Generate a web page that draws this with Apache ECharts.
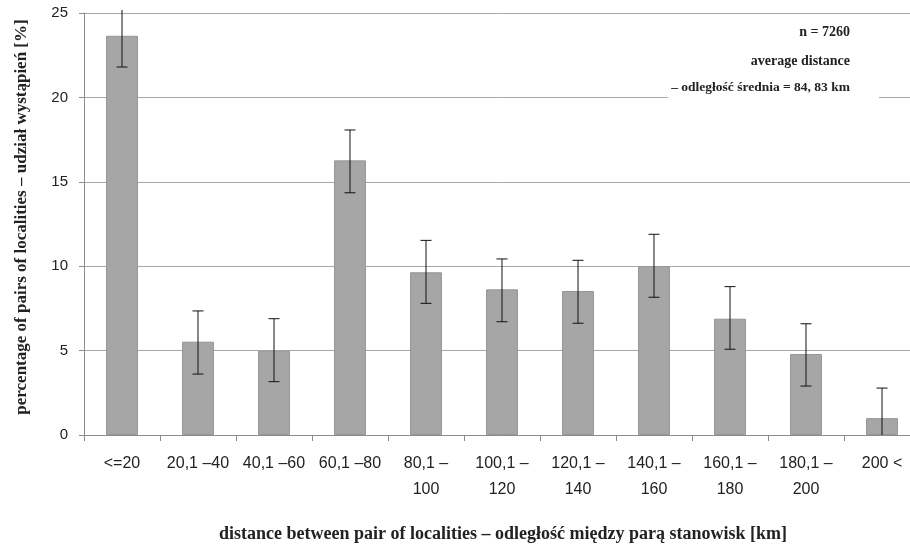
<!DOCTYPE html>
<html>
<head>
<meta charset="utf-8">
<script src="https://cdn.jsdelivr.net/npm/echarts@6/dist/echarts.min.js"></script>
<style>html,body{margin:0;padding:0;background:#fff;}#c{width:910px;height:544px;}</style>
</head>
<body>
<div id="c"></div>
<script>
const categories = ['<=20', '20,1 –40', '40,1 –60', '60,1 –80', '80,1 –\n100', '100,1 –\n120', '120,1 –\n140', '140,1 –\n160', '160,1 –\n180', '180,1 –\n200', '200 <'];
const percentages = [23.65, 5.53, 4.99, 16.27, 9.64, 8.63, 8.53, 10.01, 6.89, 4.80, 1.0];
const errLower = [21.8, 3.61, 3.16, 14.35, 7.80, 6.71, 6.62, 8.16, 5.08, 2.90, -0.8];
const errUpper = [25.5, 7.35, 6.89, 18.07, 11.53, 10.43, 10.35, 11.89, 8.79, 6.59, 2.78];
const yTicks = [0, 5, 10, 15, 20, 25];

const chart = echarts.init(document.getElementById('c'));
const serif = '"Liberation Serif", "Times New Roman", serif';
const sans = '"Liberation Sans", Arial, sans-serif';

chart.setOption({
  animation: false,
  backgroundColor: '#ffffff',
  grid: { left: 84, top: 13, width: 836, height: 422, outerBoundsMode: 'none', containLabel: false },
  xAxis: {
    type: 'category',
    data: categories,
    axisLine: { lineStyle: { color: '#8c8c8c', width: 1 } },
    axisTick: { show: true, alignWithLabel: false, length: 6, lineStyle: { color: '#8c8c8c' } },
    axisLabel: { interval: 0, fontFamily: sans, fontSize: 16, color: '#222', margin: 16, lineHeight: 26, hideOverlap: false }
  },
  yAxis: {
    type: 'value',
    min: yTicks[0], max: yTicks[yTicks.length - 1], interval: 5,
    axisLine: { show: true, lineStyle: { color: '#8c8c8c' } },
    axisTick: { show: true, length: 5, lineStyle: { color: '#8c8c8c' } },
    axisLabel: { fontFamily: sans, fontSize: 15, color: '#222', margin: 16 },
    splitLine: { lineStyle: { color: '#a8a8a8', width: 1 } }
  },
  graphic: [
    { type: 'rect', shape: { x: 668, y: 20, width: 211, height: 84 }, style: { fill: '#ffffff' }, z: 50 },
    { type: 'text', x: 850, y: 32, z: 51, style: { text: 'n = 7260', fontFamily: serif, fontWeight: 'bold', fontSize: 14, fill: '#222', textAlign: 'right', textVerticalAlign: 'middle' } },
    { type: 'text', x: 850, y: 61, z: 51, style: { text: 'average distance', fontFamily: serif, fontWeight: 'bold', fontSize: 14, fill: '#222', textAlign: 'right', textVerticalAlign: 'middle' } },
    { type: 'text', x: 850, y: 88, z: 51, style: { text: '– odległość średnia = 84, 83 km', fontFamily: serif, fontWeight: 'bold', fontSize: 13.5, fill: '#222', textAlign: 'right', textVerticalAlign: 'middle' } },
    { type: 'text', x: 503, y: 534, z: 51, style: { text: 'distance between pair of localities – odległość między parą stanowisk [km]', fontFamily: serif, fontWeight: 'bold', fontSize: 18, fill: '#222', textAlign: 'center', textVerticalAlign: 'middle' } },
    { type: 'text', x: 22, y: 217, rotation: Math.PI / 2, z: 51, style: { text: 'percentage of pairs of localities – udział wystąpień [%]', fontFamily: serif, fontWeight: 'bold', fontSize: 17, fill: '#222', textAlign: 'center', textVerticalAlign: 'middle' } }
  ],
  series: [
    {
      type: 'bar',
      data: percentages,
      barWidth: '42%',
      itemStyle: { color: '#a6a6a6', borderColor: '#969696', borderWidth: 1 }
    },
    {
      type: 'custom',
      clip: false,
      z: 10,
      data: categories.map((c, i) => [i, errLower[i], errUpper[i]]),
      renderItem: function (params, api) {
        const cs = params.coordSys;
        const top = cs.y, bottom = cs.y + cs.height;
        const x = api.coord([api.value(0), 0])[0];
        let yHi = api.coord([api.value(0), api.value(2)])[1];
        let yLo = api.coord([api.value(0), api.value(1)])[1];
        const children = [];
        const hw = 5.5;
        let hiCap = true, loCap = true;
        if (yHi < top - 3) { yHi = top - 3; hiCap = false; }
        if (yLo > bottom) { yLo = bottom; loCap = false; }
        const st = { stroke: '#111', lineWidth: 1 };
        children.push({ type: 'line', shape: { x1: x, y1: yHi, x2: x, y2: yLo }, style: st });
        if (hiCap) children.push({ type: 'line', shape: { x1: x - hw, y1: yHi, x2: x + hw, y2: yHi }, style: st });
        if (loCap) children.push({ type: 'line', shape: { x1: x - hw, y1: yLo, x2: x + hw, y2: yLo }, style: st });
        return { type: 'group', children: children };
      }
    }
  ]
});
</script>
</body>
</html>
